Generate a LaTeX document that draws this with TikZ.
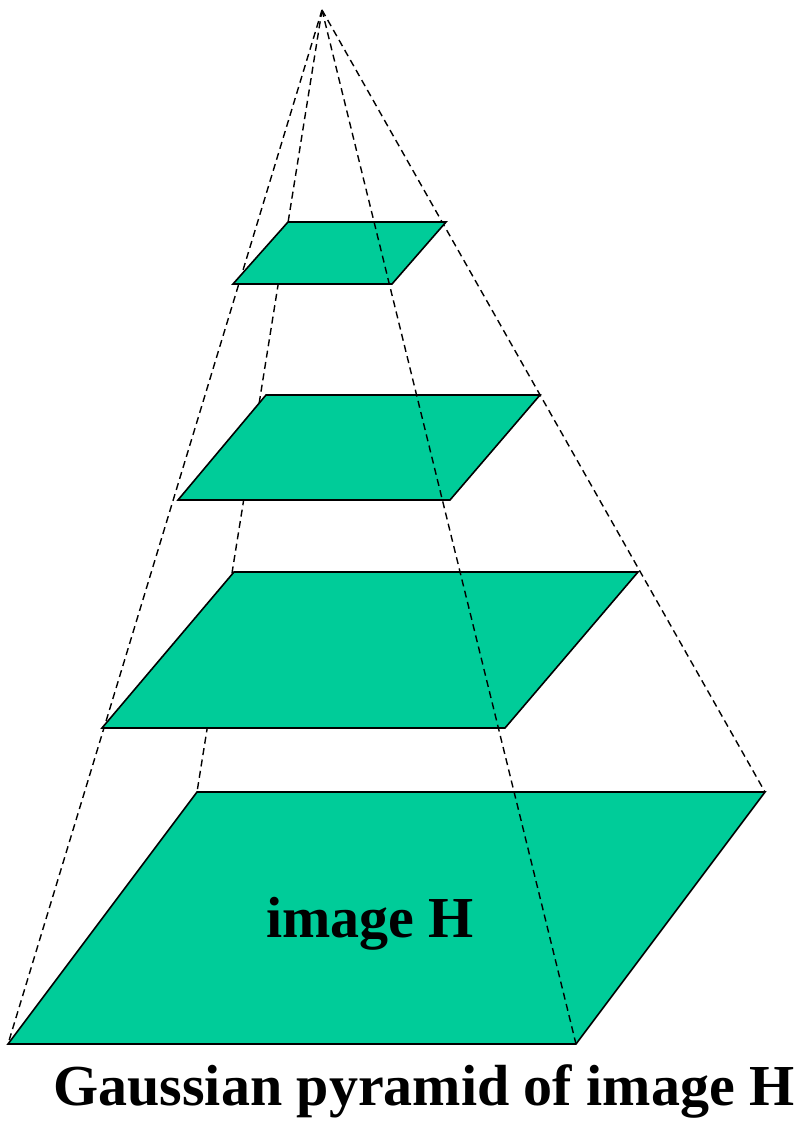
\documentclass[tikz,border=0pt]{standalone}
\usepackage{fontspec}
\setmainfont{Liberation Serif}
\usetikzlibrary{arrows,positioning,calc}
\definecolor{layergreen}{RGB}{0,204,153}
\tikzset{
  layer/.style={fill=layergreen,draw=black,line width=1.6pt,line join=miter},
  hidden/.style={line width=1.4pt,dash pattern=on 7pt off 4.5pt},
  big/.style={font=\fontsize{58}{60}\selectfont\bfseries,inner sep=0pt,anchor=base}
}
\begin{document}
\begin{tikzpicture}[x=1pt,y=-1pt]
  \useasboundingbox (0,0) rectangle (799,1121);
  % apex and corners of the full image
  \coordinate (T) at (322,10);
  \coordinate (BL) at (8,1044);
  \coordinate (BB) at (197,792);
  \coordinate (BR) at (765,792);
  \coordinate (BF) at (576,1044);
  \draw[hidden] (T) -- (BL);
  \draw[hidden] (T) -- (BB);
  \draw[hidden] (T) -- (BR);
  % the levels, smallest first
  \filldraw[layer] (288,222) -- (446,222) -- (392,284) -- (233,284) -- cycle;
  \filldraw[layer] (266,395) -- (540,395) -- (450,500) -- (178,500) -- cycle;
  \filldraw[layer] (234,572) -- (638,572) -- (505,728) -- (102,728) -- cycle;
  \filldraw[layer] (BB) -- (BR) -- (BF) -- (BL) -- cycle;
  \draw[hidden] (T) -- (BF);
  \node[big] (img) at (370,937) {image H};
  \node[big] (cap) at (424,1105) {Gaussian pyramid of image H};
\end{tikzpicture}
\end{document}
